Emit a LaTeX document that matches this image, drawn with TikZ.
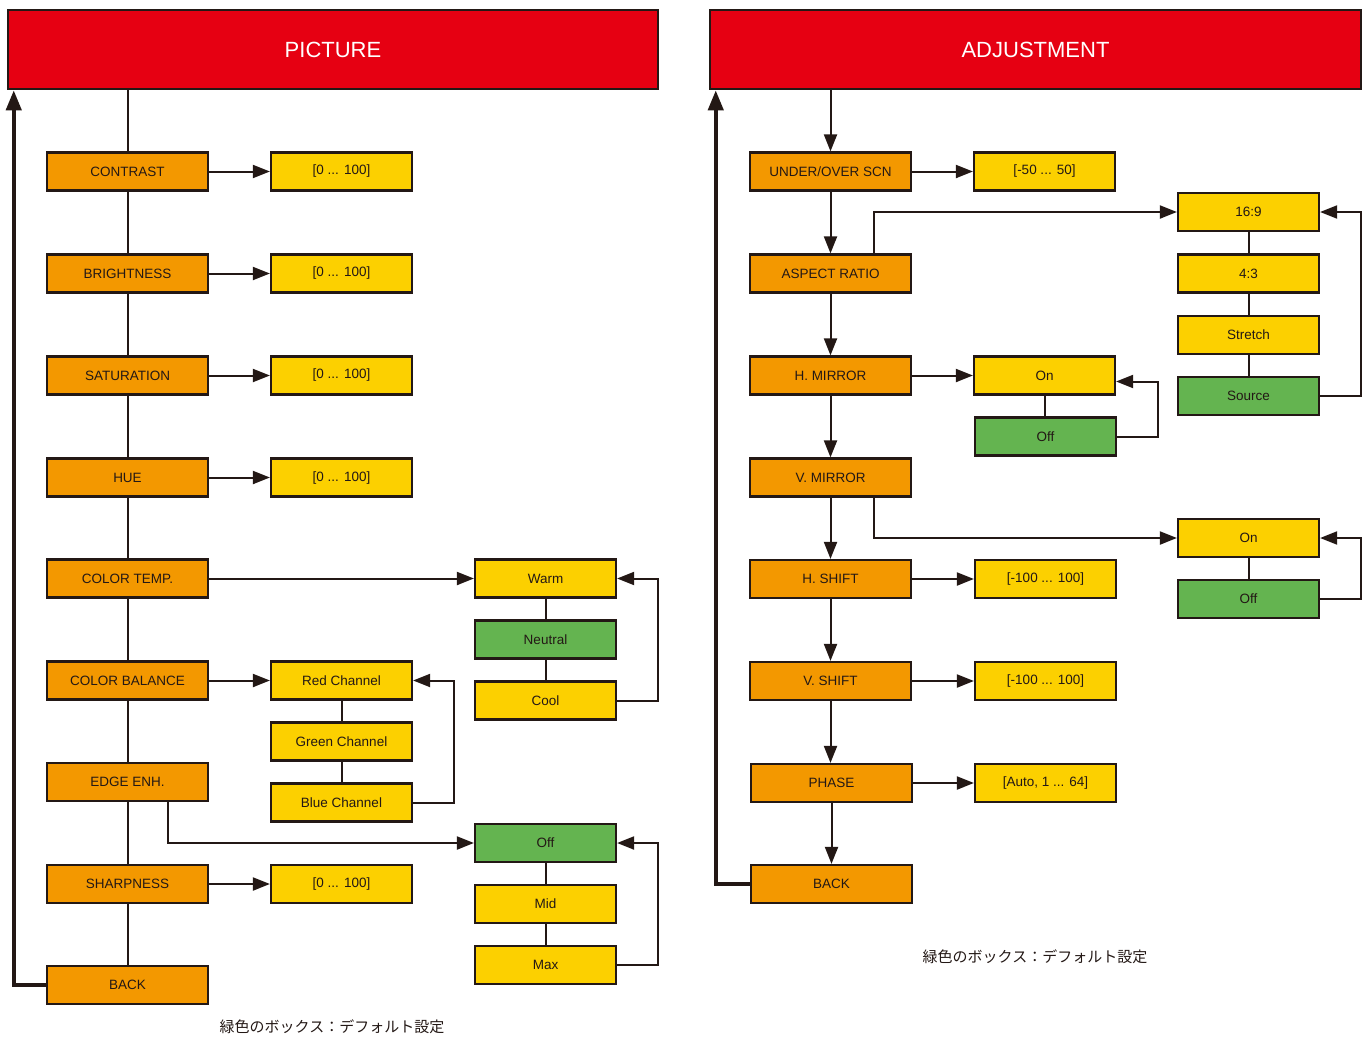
\documentclass[tikz,border=0pt]{standalone}
\usepackage{fontspec}
\setmainfont{Liberation Sans}
\newfontfamily\cjk{Noto Sans CJK JP}
\usetikzlibrary{arrows.meta,calc}
\definecolor{edgec}{HTML}{231815}
\definecolor{redc}{HTML}{E60012}
\definecolor{orangec}{HTML}{F39800}
\definecolor{yellowc}{HTML}{FCD000}
\definecolor{greenc}{HTML}{64B450}
\tikzset{
  box/.style={draw=edgec, line width=2.2pt, minimum width=161pt, minimum height=38pt,
    inner sep=0pt, font=\fontsize{13.5}{16}\selectfont, text=edgec},
  ora/.style={box, fill=orangec},
  yel/.style={box, fill=yellowc, minimum width=141pt},
  grn/.style={box, fill=greenc, minimum width=141pt},
  hdr/.style={draw=edgec, line width=2.5pt, fill=redc, text=white, inner sep=0pt,
    font=\fontsize{22}{26}\selectfont, minimum width=650pt, minimum height=79pt},
  conn/.style={draw=edgec, line width=2pt},
  arr/.style={conn, -{Triangle[length=17pt,width=13pt]}},
  ret/.style={draw=edgec, line width=4pt, -{Triangle[length=20pt,width=15pt]}},
  captext/.style={font=\cjk\fontsize{15}{18}\selectfont, text=edgec},
}
\begin{document}
\begin{tikzpicture}[x=1pt,y=-1pt]
\useasboundingbox (0,0) rectangle (1367,1039);
% ---------------- PICTURE ----------------
\node[hdr] (lhdr) at (333,49.5) {PICTURE};
\node[ora] (lc)  at (127.5,171.5) {CONTRAST};
\node[ora] (lb)  at (127.5,273.5) {BRIGHTNESS};
\node[ora] (ls)  at (127.5,375.5) {SATURATION};
\node[ora] (lh)  at (127.5,477.5) {HUE};
\node[ora] (lt)  at (127.5,578.5) {COLOR TEMP.};
\node[ora] (lcb) at (127.5,680.5) {COLOR BALANCE};
\node[ora] (le)  at (127.5,782) {EDGE ENH.};
\node[ora] (lsh) at (127.5,884) {SHARPNESS};
\node[ora] (lback) at (127.5,985) {BACK};

\node[yel] (vc)  at (341.5,171.5) {[0 ... 100]};
\node[yel] (vb)  at (341.5,273.5) {[0 ... 100]};
\node[yel] (vs)  at (341.5,375.5) {[0 ... 100]};
\node[yel] (vh)  at (341.5,477.5) {[0 ... 100]};
\node[yel] (vsh) at (341.5,884) {[0 ... 100]};

\node[yel] (warm) at (545.5,578.5) {Warm};
\node[grn] (neut) at (545.5,639.5) {Neutral};
\node[yel] (cool) at (545.5,700.5) {Cool};

\node[yel] (red)   at (341.5,680.5) {Red Channel};
\node[yel] (green) at (341.5,741.5) {Green Channel};
\node[yel] (blue)  at (341.5,802.5) {Blue Channel};

\node[grn] (eoff) at (545.5,843) {Off};
\node[yel] (emid) at (545.5,904) {Mid};
\node[yel] (emax) at (545.5,965) {Max};

\draw[conn] (lc.north |- lhdr.south) -- (lc.north);
\foreach \a/\b in {lc/lb,lb/ls,ls/lh,lh/lt,lt/lcb,lcb/le,le/lsh,lsh/lback}
  \draw[conn] (\a.south) -- (\a.south |- \b.north);
\foreach \a/\b in {lc/vc,lb/vb,ls/vs,lh/vh,lsh/vsh,lt/warm,lcb/red}
  \draw[arr] (\a.east) -- (\b.west);
\foreach \a/\b in {warm/neut,neut/cool,red/green,green/blue,eoff/emid,emid/emax}
  \draw[conn] (\a.south) -- (\a.south |- \b.north);
\draw[arr] (cool.east) -- ++(41,0) |- (warm.east);
\draw[arr] (blue.east) -- ++(41,0) |- (red.east);
\draw[arr] (emax.east) -- ++(41,0) |- (eoff.east);
\draw[arr] ([xshift=40.5pt]le.south) |- (eoff.west);
\draw[ret] (lback.west) -| ([xshift=7pt]lhdr.south west);
\node[captext] (capl) at (332,1027) {緑色のボックス：デフォルト設定};

% ---------------- ADJUSTMENT ----------------
\node[hdr, minimum width=651pt] (rhdr) at (1035.5,49.5) {ADJUSTMENT};
\node[ora] (ru)  at (830.5,171.5) {UNDER/OVER SCN};
\node[ora] (ra)  at (830.5,273.5) {ASPECT RATIO};
\node[ora] (rhm) at (830.5,375.5) {H. MIRROR};
\node[ora] (rvm) at (830.5,477.5) {V. MIRROR};
\node[ora] (rhs) at (830.5,579) {H. SHIFT};
\node[ora] (rvs) at (830.5,681) {V. SHIFT};
\node[ora] (rp)  at (831.5,783) {PHASE};
\node[ora] (rback) at (831.5,884) {BACK};

\node[yel] (vu)  at (1044.5,171.5) {[-50 ... 50]};
\node[yel] (vhs) at (1045.5,579) {[-100 ... 100]};
\node[yel] (vvs) at (1045.5,681) {[-100 ... 100]};
\node[yel] (vp)  at (1045.5,783) {[Auto, 1 ... 64]};

\node[yel] (hon)  at (1044.5,375.5) {On};
\node[grn] (hoff) at (1045.5,436.5) {Off};

\node[yel] (a169) at (1248.5,212) {16:9};
\node[yel] (a43)  at (1248.5,273.5) {4:3};
\node[yel] (ast)  at (1248.5,335) {Stretch};
\node[grn] (asrc) at (1248.5,396) {Source};

\node[yel] (von)  at (1248.5,538) {On};
\node[grn] (voff) at (1248.5,599) {Off};

\draw[arr] (ru.north |- rhdr.south) -- (ru.north);
\foreach \a/\b in {ru/ra,ra/rhm,rhm/rvm,rvm/rhs,rhs/rvs,rvs/rp,rp/rback}
  \draw[arr] (\a.south) -- (\a.south |- \b.north);
\foreach \a/\b in {ru/vu,rhm/hon,rhs/vhs,rvs/vvs,rp/vp}
  \draw[arr] (\a.east) -- (\b.west);
\foreach \a/\b in {hon/hoff,a169/a43,a43/ast,ast/asrc,von/voff}
  \draw[conn] (\a.south) -- (\a.south |- \b.north);
\draw[arr] (hoff.east) -- ++(41,0) |- ([yshift=-6pt]hon.east);
\draw[arr] (asrc.east) -- ++(41,0) |- (a169.east);
\draw[arr] (voff.east) -- ++(41,0) |- (von.east);
\draw[arr] ([xshift=43.5pt]ra.north) |- (a169.west);
\draw[arr] ([xshift=43.5pt]rvm.south) |- (von.west);
\draw[ret] (rback.west) -| ([xshift=7pt]rhdr.south west);
\node[captext] (capr) at (1035,957) {緑色のボックス：デフォルト設定};
\end{tikzpicture}
\end{document}
